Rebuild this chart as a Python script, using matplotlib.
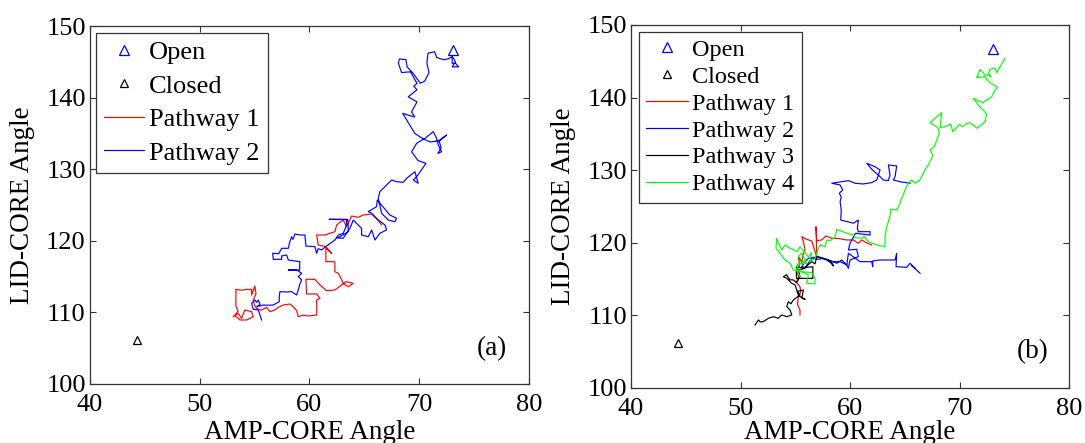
import matplotlib
matplotlib.use("Agg")
import numpy as np
import matplotlib.pyplot as plt
from matplotlib.lines import Line2D

plt.rcParams["font.family"] = ["Liberation Serif", "DejaVu Serif"]

# ---------------------------------------------------------------- data
x_ticks = [40, 50, 60, 70, 80]
y_ticks = [100, 110, 120, 130, 140, 150]
x_label = "AMP-CORE Angle"
y_label = "LID-CORE Angle"

open_state = (73.05, 146.7)      # AMP-CORE, LID-CORE angle of the open structure
closed_state = (44.3, 106.2)     # AMP-CORE, LID-CORE angle of the closed structure

# panel (a): two transition pathways
a_pathway1 = [
    (53.06, 109.40), (53.51, 109.87), (53.82, 109.17), (54.12, 110.34), (54.73, 110.10),
    (54.88, 109.40), (54.28, 108.94), (53.67, 108.94), (53.20, 109.60), (53.50, 110.20),
    (53.30, 110.90), (53.30, 111.73), (53.30, 113.22), (53.80, 113.10), (54.28, 113.22),
    (54.73, 113.22), (54.73, 112.43), (55.03, 113.69), (55.13, 112.57), (54.88, 111.73),
    (55.00, 111.00), (55.19, 110.57), (55.60, 110.30), (56.10, 110.71), (56.40, 110.10),
    (56.86, 110.34), (57.16, 110.71), (57.62, 111.03), (58.22, 111.17), (58.52, 110.80),
    (58.84, 110.24), (58.98, 109.40), (59.40, 109.60), (59.89, 109.50), (60.66, 109.64),
    (60.66, 111.73), (60.96, 111.97), (60.66, 112.57), (59.74, 112.57), (59.68, 114.62),
    (60.50, 114.62), (60.96, 113.83), (61.57, 113.03), (62.32, 113.13), (62.93, 113.83),
    (63.33, 114.29), (63.99, 114.06), (63.54, 113.59), (63.10, 114.00), (62.87, 114.76),
    (62.63, 115.46), (62.32, 115.68), (62.32, 117.08), (61.50, 117.08), (61.50, 118.95),
    (62.02, 118.25), (61.50, 119.18), (60.81, 119.41), (60.66, 120.81), (61.41, 120.81),
    (61.87, 121.05), (62.32, 121.27), (62.48, 122.21), (63.08, 122.90), (63.39, 121.97),
    (63.60, 122.60), (63.84, 123.46), (64.45, 123.28), (64.90, 123.60), (65.67, 123.74),
    (65.97, 123.28), (66.27, 122.81), (66.58, 122.21),
]
a_pathway2 = [
    (55.64, 108.94), (55.50, 109.60), (55.34, 110.34), (54.88, 110.43), (54.73, 111.27),
    (55.03, 111.73), (55.20, 111.40), (55.34, 111.73), (55.50, 111.10), (55.20, 110.80),
    (55.80, 111.03), (56.20, 111.00), (56.71, 111.03), (57.25, 111.50), (57.25, 112.20),
    (57.31, 112.90), (57.90, 112.85), (58.37, 112.90), (58.84, 112.43), (58.98, 113.13),
    (59.13, 113.97), (59.29, 114.53), (58.98, 114.99), (59.29, 115.46), (58.84, 115.92),
    (58.07, 115.92), (59.10, 115.90), (59.13, 117.08), (58.07, 117.32), (57.92, 118.02),
    (57.47, 117.88), (57.47, 117.41), (56.71, 117.41), (56.65, 118.25), (57.20, 118.20),
    (57.47, 118.95), (58.07, 118.95), (58.20, 119.80), (58.37, 120.57), (58.50, 120.20),
    (58.68, 120.95), (59.13, 120.81), (59.59, 120.81), (59.68, 119.27), (60.50, 119.18),
    (60.66, 118.25), (60.80, 118.90), (61.11, 118.72), (61.56, 119.27), (62.32, 120.11),
    (62.63, 120.81), (63.08, 121.05), (63.33, 121.97), (63.39, 122.67), (63.40, 123.00),
    (61.80, 123.00), (63.50, 122.95), (63.54, 121.27), (62.78, 120.57), (62.50, 120.40),
    (63.08, 120.35), (63.69, 121.74), (63.99, 122.90), (64.45, 122.21), (64.75, 121.74),
    (64.75, 120.81), (65.36, 120.57), (65.67, 121.51), (65.97, 120.11), (66.42, 121.05),
    (67.03, 121.51), (66.88, 122.21), (66.27, 122.90), (65.67, 123.84), (65.36, 124.07),
    (66.12, 124.77), (66.18, 125.70), (67.33, 123.60), (67.94, 123.14), (67.79, 122.67),
    (67.18, 122.90), (66.58, 123.84), (66.27, 125.94), (66.42, 126.86), (67.03, 127.79),
    (67.49, 128.49), (67.94, 128.25), (68.55, 128.17), (68.86, 128.73), (69.61, 129.65),
    (69.91, 128.03), (69.46, 128.49), (69.80, 129.00), (70.62, 130.82), (69.90, 131.20),
    (69.31, 132.44), (69.77, 133.62), (70.52, 134.31), (71.28, 135.24), (71.59, 134.31),
    (71.74, 133.38), (72.04, 132.44), (71.70, 132.20), (72.00, 133.00), (71.80, 134.00),
    (72.50, 134.78), (71.90, 134.00), (71.00, 133.80), (70.30, 134.30), (69.60, 135.00),
    (68.50, 137.80), (69.10, 137.50), (69.60, 137.30), (69.30, 138.00), (69.80, 139.40),
    (69.00, 140.10), (69.80, 141.10), (69.50, 141.60), (69.80, 142.00), (69.20, 143.60),
    (68.40, 143.50), (68.10, 144.80), (68.20, 145.40), (68.80, 145.30), (68.90, 144.30),
    (69.50, 143.30), (70.10, 142.00), (70.50, 142.30), (70.90, 143.50), (70.70, 144.80),
    (70.80, 146.20), (71.40, 146.40), (71.60, 145.60), (72.20, 145.30), (72.60, 145.40),
    (73.00, 145.70), (73.00, 144.80), (73.30, 144.80), (73.60, 144.30), (73.00, 144.30),
    (73.30, 145.00), (73.00, 145.80),
]

# panel (b): four transition pathways
b_pathway1 = [
    (55.43, 110.06), (55.43, 110.74), (55.20, 111.50), (55.28, 112.58), (55.50, 113.20),
    (55.43, 113.95), (55.10, 114.60), (55.30, 115.30), (55.13, 116.25), (55.40, 116.90),
    (55.28, 118.09), (55.60, 117.30), (55.74, 118.50), (55.89, 119.01), (55.74, 120.15),
    (55.59, 120.84), (56.00, 120.50), (56.50, 120.25), (56.96, 118.09), (56.89, 122.22),
    (56.96, 120.30), (57.42, 120.39), (57.81, 120.94), (58.33, 120.62), (58.90, 120.60),
    (59.70, 120.39), (60.30, 120.39), (60.76, 119.93), (61.07, 120.39), (61.50, 120.00),
    (61.98, 119.70),
]
b_pathway2 = [
    (65.48, 128.20), (64.60, 128.40), (63.95, 128.65), (64.11, 129.11), (64.26, 130.58),
    (63.50, 130.72), (63.65, 129.34), (63.50, 128.56), (63.04, 128.65), (62.58, 129.34),
    (62.00, 130.10), (61.53, 130.95), (62.28, 130.48), (62.74, 130.03), (62.44, 128.65),
    (61.98, 128.29), (61.20, 128.10), (60.46, 128.20), (59.85, 128.56), (58.33, 128.20),
    (59.09, 127.96), (59.33, 127.27), (59.02, 126.82), (59.20, 126.30), (59.09, 125.66),
    (59.20, 124.50), (59.15, 123.14), (60.30, 122.69), (60.76, 123.14), (60.67, 122.00),
    (60.76, 121.53), (61.83, 121.53), (61.83, 121.07), (60.50, 121.30), (60.00, 119.93),
    (59.85, 119.01), (60.61, 119.10), (60.76, 118.09), (60.00, 117.63), (59.85, 116.48),
    (59.70, 116.94), (59.24, 117.63), (58.79, 117.18), (58.02, 117.63), (57.11, 118.09),
    (56.19, 117.86), (55.89, 117.40), (55.59, 116.71), (55.90, 116.60), (56.50, 117.86),
    (57.11, 117.72), (57.56, 117.86), (58.40, 117.40), (59.09, 117.40), (59.70, 116.94),
    (59.85, 118.55), (60.91, 117.40), (61.98, 117.40), (62.07, 116.71), (62.07, 117.50),
    (62.74, 117.63), (64.11, 117.63), (64.26, 118.55), (64.20, 116.71), (65.18, 116.62),
    (65.48, 117.18), (65.94, 116.48), (65.60, 116.90), (66.39, 115.80),
]
b_pathway3 = [
    (51.32, 108.68), (51.63, 109.37), (51.80, 109.10), (52.08, 109.13), (52.54, 109.60),
    (53.00, 109.82), (53.45, 109.60), (53.76, 110.06), (54.22, 109.82), (54.68, 110.06),
    (54.52, 110.74), (54.22, 111.20), (54.37, 111.89), (54.60, 111.60), (54.82, 112.12),
    (55.43, 112.81), (55.20, 113.30), (55.74, 113.50), (55.60, 112.40), (55.90, 112.20),
    (55.30, 112.70), (55.13, 113.50), (54.98, 114.19), (54.60, 114.50), (54.22, 115.11),
    (53.91, 115.33), (54.20, 115.60), (54.50, 114.90), (54.82, 114.88), (55.10, 114.50),
    (55.43, 115.33), (55.28, 116.25), (55.89, 116.48), (55.10, 116.70), (55.10, 115.10),
    (56.60, 115.10), (56.60, 116.70), (55.90, 116.60), (56.50, 117.40), (56.80, 117.10),
    (56.96, 118.09), (57.42, 117.86), (57.87, 117.63), (58.33, 117.18), (58.50, 116.80),
    (58.10, 117.50),
]
b_pathway4 = [
    (74.16, 145.41), (73.70, 144.26), (73.40, 143.43), (73.24, 144.04), (72.79, 143.89),
    (72.63, 143.35), (72.90, 142.90), (72.33, 143.11), (71.87, 143.89), (71.57, 142.74),
    (72.33, 142.90), (72.48, 142.52), (72.79, 142.05), (73.46, 141.42), (73.20, 140.90),
    (72.94, 140.12), (72.48, 139.67), (72.12, 139.30), (71.26, 139.90), (71.72, 138.98),
    (72.00, 138.50), (72.48, 137.74), (72.33, 136.68), (71.87, 136.09), (71.57, 135.77),
    (71.26, 136.23), (70.90, 136.54), (70.59, 136.36), (70.29, 135.99), (70.00, 136.30),
    (69.81, 135.99), (69.38, 135.30), (69.20, 136.36), (68.68, 135.99), (68.22, 135.86),
    (68.37, 137.93), (67.31, 136.54), (68.00, 135.90), (68.16, 135.08), (67.92, 134.16),
    (67.70, 133.24), (67.31, 132.78), (67.55, 132.09), (67.46, 131.64), (67.15, 130.72),
    (66.85, 130.03), (66.39, 128.65), (65.94, 128.20), (65.63, 128.65), (65.32, 128.20),
    (65.02, 127.27), (64.80, 126.40), (64.57, 125.44), (64.26, 124.52), (63.72, 124.61),
    (63.65, 123.60), (63.35, 122.22), (63.20, 120.84), (63.20, 119.46), (62.44, 119.70),
    (61.67, 120.15), (61.30, 120.90), (61.07, 120.62), (60.50, 120.70), (60.30, 121.07),
    (59.70, 121.31), (58.79, 121.86), (58.63, 120.76), (58.20, 120.30), (57.87, 120.39),
    (57.72, 119.46), (57.26, 119.70), (57.11, 119.24), (56.80, 117.86), (56.34, 117.40),
    (56.50, 118.60), (56.19, 118.09), (55.43, 119.46), (55.20, 118.80), (54.52, 119.24),
    (54.06, 119.70), (53.76, 119.00), (53.30, 120.62), (53.24, 119.24), (53.61, 118.55),
    (54.06, 117.63), (54.52, 117.18), (54.82, 116.25), (55.59, 116.02), (56.19, 115.56),
    (56.05, 114.42), (56.80, 114.33), (56.80, 115.11), (56.50, 115.90), (55.43, 116.02),
    (55.13, 116.90), (55.90, 117.30), (55.28, 118.09), (55.60, 118.60), (56.05, 117.18),
    (55.28, 117.18), (55.13, 116.25), (55.43, 115.33),
]

panel_a = [("Pathway 1", a_pathway1, "#ff0000"), ("Pathway 2", a_pathway2, "#0000ff")]
panel_b = [("Pathway 1", b_pathway1, "#ff0000"), ("Pathway 2", b_pathway2, "#0000ff"),
           ("Pathway 3", b_pathway3, "#000000"), ("Pathway 4", b_pathway4, "#00ff00")]

# ---------------------------------------------------------------- figure
frame_col = "#333333"
fig = plt.figure(figsize=(10.85, 4.43), dpi=100)
ax_a = fig.add_axes([0.0829, 0.1332, 0.4046, 0.8081])
ax_b = fig.add_axes([0.5816, 0.1242, 0.4037, 0.8194])


def draw_panel(ax, series, tag, legend_anchor, legend_size, legend_gap,
               handle_len, label_ypos):
    handles = [
        Line2D([], [], ls="none", marker="^", ms=7, mfc="none", mec="#0000ff", mew=0.9),
        Line2D([], [], ls="none", marker="^", ms=6, mfc="none", mec="#000000", mew=0.9),
    ]
    labels = ["Open", "Closed"]
    for name, pts, col in series:
        xy = np.array(pts)
        ln, = ax.plot(xy[:, 0], xy[:, 1], color=col, lw=0.85)
        handles.append(ln)
        labels.append(name)
    ax.plot([open_state[0]], [open_state[1]], ls="none", marker="^", ms=7,
            mfc="none", mec="#0000ff", mew=0.9)
    ax.plot([closed_state[0]], [closed_state[1]], ls="none", marker="^", ms=6,
            mfc="none", mec="#000000", mew=0.9)

    ax.set_xlim(40, 80)
    ax.set_ylim(100, 150)
    ax.set_xticks(x_ticks)
    ax.set_yticks(y_ticks)
    ax.tick_params(direction="in", top=True, right=True, length=4, width=0.8,
                   color=frame_col, labelsize=19)
    ax.tick_params(axis="x", pad=7)
    ax.tick_params(axis="y", pad=3)
    for s in ax.spines.values():
        s.set_linewidth(0.9)
        s.set_color(frame_col)

    ax.set_xlabel(x_label, fontsize=19.5)
    ax.xaxis.set_label_coords(0.5, label_ypos)
    ax.xaxis.label.set_va("baseline")
    ax.set_ylabel(y_label, fontsize=19.5)
    ax.yaxis.set_label_coords(-0.154, 0.5)
    ax.yaxis.label.set_va("center")

    ax.text(0.881, 0.10, tag, transform=ax.transAxes, fontsize=19.5,
            ha="left", va="center")

    leg = ax.legend(handles, labels, loc="upper left", bbox_to_anchor=legend_anchor,
                    borderaxespad=0, fontsize=legend_size, fancybox=False,
                    edgecolor=frame_col, framealpha=1, handlelength=handle_len,
                    handletextpad=0.2, labelspacing=legend_gap, borderpad=0.3)
    leg.get_frame().set_linewidth(0.9)


draw_panel(ax_a, panel_a, "(a)", (0.0148, 0.981), 19, 0.38, 1.5, -0.1536)
draw_panel(ax_b, panel_b, "(b)", (0.018, 0.9816), 17.5, 0.2, 1.7, -0.1405)

fig.savefig("out.png", dpi=100)
